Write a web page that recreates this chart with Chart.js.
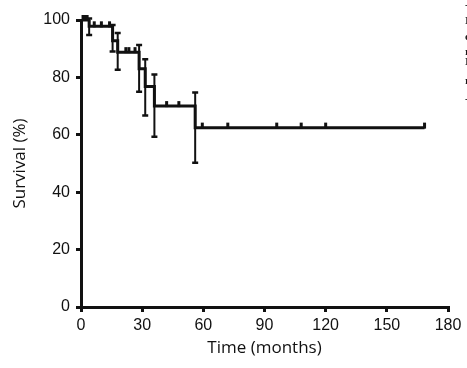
<!DOCTYPE html>
<html lang="en">
<head>
    <meta charset="UTF-8">
    <title>Survival</title>
    <style>
        html, body { margin: 0; padding: 0; background: #fff; }
        #wrap { width: 467px; height: 368px; }
    </style>
</head>
<body>
    <div id="wrap"><canvas id="chart" width="467" height="368"></canvas></div>
<script src="https://cdn.jsdelivr.net/npm/chart.js"></script>
<script>
    // step points of the KM curve (months, %)
    let stepTime = [0, 4, 15.5, 18, 28.5, 31.5, 36, 56, 168.5];
    let stepSurv = [100, 97.8, 92.8, 88.8, 83, 76.8, 70, 62.5, 62.5];

    // error bars
    let errTime = [4, 15.5, 18, 28.5, 31.5, 36, 56];
    let errLow = [94.8, 89, 82.7, 75, 66.7, 59.3, 50.3];
    let errHigh = [100.5, 98.3, 95.5, 91.3, 86.3, 81, 74.7];

    // censored
    let censTime = [1, 2, 3, 6.5, 10, 14, 22, 23.5, 26.5, 42, 48, 59.5, 72, 96, 108, 120, 168.5];
    let censSurv = [100, 100, 100, 97.8, 97.8, 97.8, 88.8, 88.8, 88.8, 70, 70, 62.5, 62.5, 62.5, 62.5, 62.5, 62.5];

    let xTicks = [0, 30, 60, 90, 120, 150, 180];
    let yTicks = [0, 20, 40, 60, 80, 100];

    // clipped text at the right edge
    let edgeText = ['-', 'I', 'c', 'r', 'I', 'r', '-'];
    let edgeY = [5, 21, 37, 52, 62, 81, 99];

    const ink = '#111';

    let curve = stepTime.map((t, i) => ({x: t, y: stepSurv[i]}));

    let marksPlugin = {
        id: 'marks',
        afterDatasetsDraw(chart) {
            let ctx = chart.ctx;
            let xs = chart.scales.x, ys = chart.scales.y;
            ctx.save();
            ctx.strokeStyle = ink;
            ctx.lineCap = 'butt';
            // error bars
            for (let i in errTime) {
                let px = xs.getPixelForValue(errTime[i]);
                let lo = ys.getPixelForValue(errLow[i]);
                let hi = ys.getPixelForValue(errHigh[i]);
                ctx.lineWidth = 2;
                ctx.beginPath();
                ctx.moveTo(px, lo);
                ctx.lineTo(px, hi);
                ctx.stroke();
                ctx.lineWidth = 2.5;
                ctx.beginPath();
                ctx.moveTo(px - 3, lo);
                ctx.lineTo(px + 3, lo);
                ctx.moveTo(px - 3, hi);
                ctx.lineTo(px + 3, hi);
                ctx.stroke();
            }
            // censor ticks
            ctx.lineWidth = 3;
            for (let i in censTime) {
                let px = xs.getPixelForValue(censTime[i]);
                let py = ys.getPixelForValue(censSurv[i]);
                ctx.beginPath();
                ctx.moveTo(px, py + 1);
                ctx.lineTo(px, py - 5);
                ctx.stroke();
            }
            // edge fragments, cut by the canvas edge
            ctx.fillStyle = '#1a1a1a';
            ctx.font = 'bold 11px "Liberation Serif"';
            ctx.textAlign = 'left';
            ctx.textBaseline = 'middle';
            for (let i in edgeText) {
                ctx.fillText(edgeText[i], 465, edgeY[i]);
            }
            ctx.restore();
        }
    };

    const chart = new Chart(document.getElementById('chart'), {
        type: 'scatter',
        data: {
            datasets: [{
                data: curve,
                showLine: true,
                stepped: true,
                borderColor: ink,
                borderWidth: 3,
                pointRadius: 0,
                fill: false
            }]
        },
        options: {
            responsive: false,
            animation: false,
            layout: { padding: { left: 0, right: 19, top: 20, bottom: 0 } },
            plugins: { legend: { display: false }, tooltip: { enabled: false } },
            scales: {
                x: {
                    type: 'linear',
                    min: 0, max: 180,
                    afterFit: (s) => { s.height = 61; },
                    afterBuildTicks: (s) => { s.ticks = xTicks.map(v => ({value: v})); },
                    grid: { drawOnChartArea: false, drawTicks: true, tickLength: 5, color: ink, lineWidth: 3 },
                    border: { display: true, color: ink, width: 3 },
                    ticks: { color: '#111', padding: 4, maxRotation: 0, font: { family: '"Liberation Sans"', size: 16 } },
                    title: {
                        display: true,
                        text: 'Time (months)',
                        color: '#111',
                        padding: { top: 0, bottom: 10 },
                        font: { family: '"Open Sans"', size: 17 }
                    }
                },
                y: {
                    type: 'linear',
                    min: 0, max: 100,
                    afterFit: (s) => { s.width = 81; },
                    afterBuildTicks: (s) => { s.ticks = yTicks.map(v => ({value: v})); },
                    grid: { drawOnChartArea: false, drawTicks: true, tickLength: 5, color: ink, lineWidth: 3 },
                    border: { display: true, color: ink, width: 3 },
                    ticks: { color: '#111', padding: 6, font: { family: '"Liberation Sans"', size: 16 } },
                    title: {
                        display: true,
                        text: 'Survival (%)',
                        color: '#111',
                        padding: { top: 10, bottom: 0 },
                        font: { family: '"Open Sans"', size: 17 }
                    }
                }
            }
        },
        plugins: [marksPlugin]
    });
</script>
</body>
</html>
